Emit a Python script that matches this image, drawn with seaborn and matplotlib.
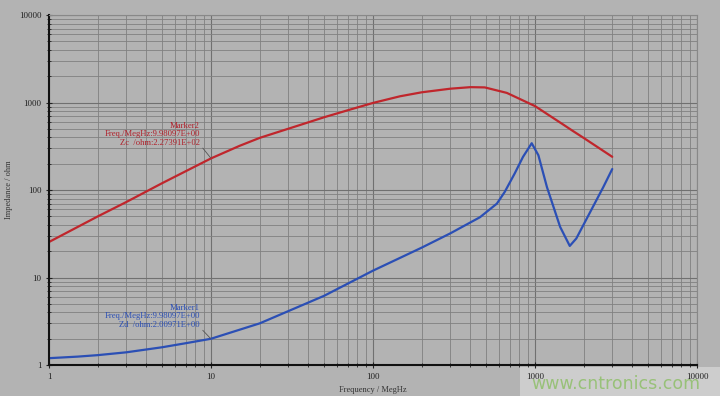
import pandas as pd
import numpy as np
import seaborn as sns
import matplotlib.pyplot as plt
from matplotlib.ticker import LogLocator, FixedLocator, NullFormatter

# values
freq_red = [1, 2, 3, 5, 10, 15, 20, 35, 50, 72, 100, 147, 200, 300, 400, 490, 670, 1000, 1500, 1710, 2000, 3000]
z_red = [25.5, 50, 73, 120, 230, 320, 395, 550, 680, 830, 990, 1180, 1310, 1440, 1500, 1490, 1290, 912, 558, 475, 394, 240]

freq_blue = [1, 1.5, 2, 3, 5, 7, 10, 20, 50, 100, 200, 300, 458, 582, 650, 750, 843, 955,
             1050, 1186, 1430, 1640, 1800, 2180, 2640, 3000]
z_blue = [1.2, 1.25, 1.3, 1.4, 1.6, 1.78, 2.0, 3.0, 6.2, 12, 22, 32, 49, 70, 95, 155, 239, 343,
          250, 108, 38, 23, 28, 55, 108, 174]

tick_vals = [1, 10, 100, 1000, 10000]
tick_text = ["1", "10", "100", "1000", "10000"]

bg = "#b3b3b3"
sns.set_style("ticks")
plt.rcParams['font.family'] = ['Liberation Serif', 'DejaVu Serif']

df = pd.concat([
    pd.DataFrame({"f": freq_red, "z": z_red, "s": "Zc"}),
    pd.DataFrame({"f": freq_blue, "z": z_blue, "s": "Zd"}),
])

fig = plt.figure(figsize=(7.2, 3.96), dpi=100, facecolor=bg)
ax = fig.add_axes([0.068, 0.078, 0.9, 0.884], facecolor=bg)
sns.lineplot(data=df, x="f", y="z", hue="s", palette={"Zc": "#c0262c", "Zd": "#2b4fb5"},
             linewidth=1.6, legend=False, ax=ax, sort=False, estimator=None)

ax.set_xscale("log")
ax.set_yscale("log")
ax.set_xlim(1, 10000)
ax.set_ylim(1, 10000)
ax.xaxis.set_major_locator(FixedLocator(tick_vals))
ax.yaxis.set_major_locator(FixedLocator(tick_vals))
ax.xaxis.set_minor_locator(LogLocator(base=10, subs=np.arange(2, 10)))
ax.yaxis.set_minor_locator(LogLocator(base=10, subs=np.arange(2, 10)))
ax.xaxis.set_minor_formatter(NullFormatter())
ax.yaxis.set_minor_formatter(NullFormatter())
ax.set_xticklabels(tick_text)
ax.set_yticklabels(tick_text)
ax.grid(which="major", color="#707070", linewidth=0.8)
ax.grid(which="minor", color="#808080", linewidth=0.6)
ax.set_axisbelow(True)
ax.tick_params(which="both", direction="inout", labelsize=6.5, colors="#222222", pad=3)
ax.tick_params(which="major", length=5)
ax.tick_params(which="minor", length=3)
for s in ["left", "bottom"]:
    ax.spines[s].set_color("#111111")
    ax.spines[s].set_linewidth(1.5)
for s in ["top", "right"]:
    ax.spines[s].set_color("#888888")
    ax.spines[s].set_linewidth(0.8)

ax.set_xlabel("Frequency / MegHz", fontsize=6, color="#333333", labelpad=4)
ax.set_ylabel("Impedance / ohm", fontsize=6, color="#333333", labelpad=4)

ax.text(8.56, 600, "Marker2\nFreq./MegHz:9.98097E+00\nZc  /ohm:2.27391E+02", color="#b0202a",
        fontsize=6.2, ha="right", va="top", linespacing=1.05)
ax.plot([8.9, 9.98], [302, 232], color="#555555", linewidth=0.6)
ax.text(8.56, 5.0, "Marker1\nFreq./MegHz:9.98097E+00\nZd  /ohm:2.00971E+00", color="#2b4fb5",
        fontsize=6.2, ha="right", va="top", linespacing=1.05)
ax.plot([8.9, 9.98], [2.5, 2.0], color="#555555", linewidth=0.6)

fig.patches.append(plt.Rectangle((0.722, 0), 0.278, 0.074, transform=fig.transFigure,
                                 facecolor="#cdcdcd", edgecolor="none", zorder=-1))
fig.text(0.973, 0.008, "www.cntronics.com", color="#8fbf6a", fontsize=12.5,
         family=['DejaVu Sans'], ha="right", va="bottom", alpha=0.85)

plt.savefig("out.png", dpi=100, facecolor=bg)
